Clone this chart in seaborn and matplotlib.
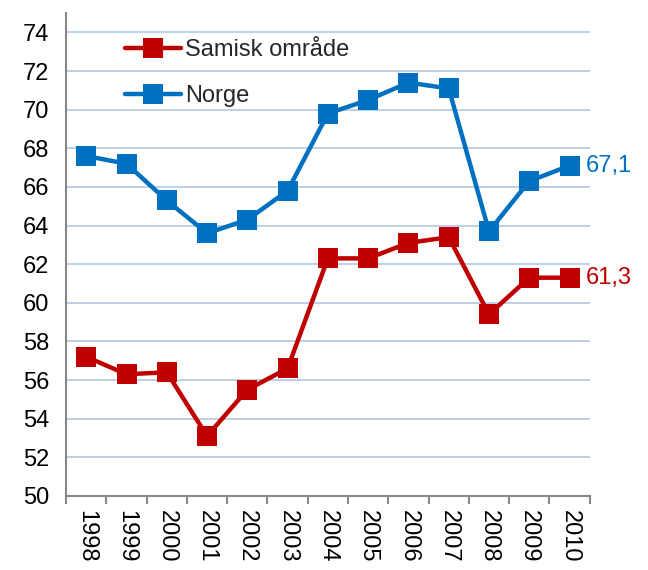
import numpy as np
import pandas as pd
import matplotlib
matplotlib.use("Agg")
import matplotlib.pyplot as plt
import seaborn as sns

years = ["1998", "1999", "2000", "2001", "2002", "2003", "2004",
         "2005", "2006", "2007", "2008", "2009", "2010"]
samisk = [57.2, 56.3, 56.4, 53.1, 55.5, 56.6, 62.3, 62.3, 63.1, 63.4, 59.4, 61.3, 61.3]
norge = [67.6, 67.2, 65.3, 63.6, 64.3, 65.8, 69.8, 70.5, 71.4, 71.1, 63.7, 66.3, 67.1]
series_names = ["Samisk område", "Norge"]
series_colors = ["#C00000", "#0070C0"]

sns.set_theme(style="white")
plt.rcParams['font.family'] = ['Liberation Sans', 'DejaVu Sans']

pos = np.arange(len(years))
df = pd.DataFrame({
    "pos": np.concatenate([pos, pos]),
    "value": samisk + norge,
    "serie": [series_names[0]] * len(years) + [series_names[1]] * len(years),
})

fig = plt.figure(figsize=(6.48, 5.70), dpi=100)
ax = fig.add_axes([0.102, 0.130, 0.808, 0.847])

sns.lineplot(data=df, x="pos", y="value", hue="serie",
             palette=dict(zip(series_names, series_colors)),
             style="serie", markers={n: "s" for n in series_names}, dashes=False,
             markersize=14, linewidth=3.2, markeredgewidth=0, ax=ax)

ax.set_xlim(-0.5, len(years) - 0.5)
ax.set_ylim(50, 75)
ax.set_yticks(np.arange(50, 75, 2))
ax.set_xticks(pos)
ax.set_xticklabels(years, rotation=-90)
ax.set_xticks(np.arange(-0.5, len(years), 1), minor=True)
ax.tick_params(axis="x", which="major", length=0, pad=10, labelsize=17, colors="black")
ax.tick_params(axis="x", which="minor", length=6, width=1.5, color="#888888", bottom=True)
ax.tick_params(axis="y", length=6, width=1.5, color="#888888", labelsize=17, pad=6,
               labelcolor="black")
ax.set_xlabel("")
ax.set_ylabel("")

ax.yaxis.grid(True, color="#B9CDE5", linewidth=1.3)
ax.set_axisbelow(True)
for s in ["top", "right"]:
    ax.spines[s].set_visible(False)
for s in ["left", "bottom"]:
    ax.spines[s].set_color("#888888")
    ax.spines[s].set_linewidth(1.5)

ax.annotate("67,1", (pos[-1], norge[-1]), xytext=(12, 0), textcoords="offset points",
            va="center", ha="left", fontsize=17, color=series_colors[1], annotation_clip=False)
ax.annotate("61,3", (pos[-1], samisk[-1]), xytext=(12, 0), textcoords="offset points",
            va="center", ha="left", fontsize=17, color=series_colors[0], annotation_clip=False)

leg = ax.legend(loc="upper left", bbox_to_anchor=(0.085, 0.975), frameon=False,
                fontsize=17, handlelength=2.4, handletextpad=0.15, labelspacing=1.0,
                borderaxespad=0.2)

fig.savefig("out.png", dpi=100)
